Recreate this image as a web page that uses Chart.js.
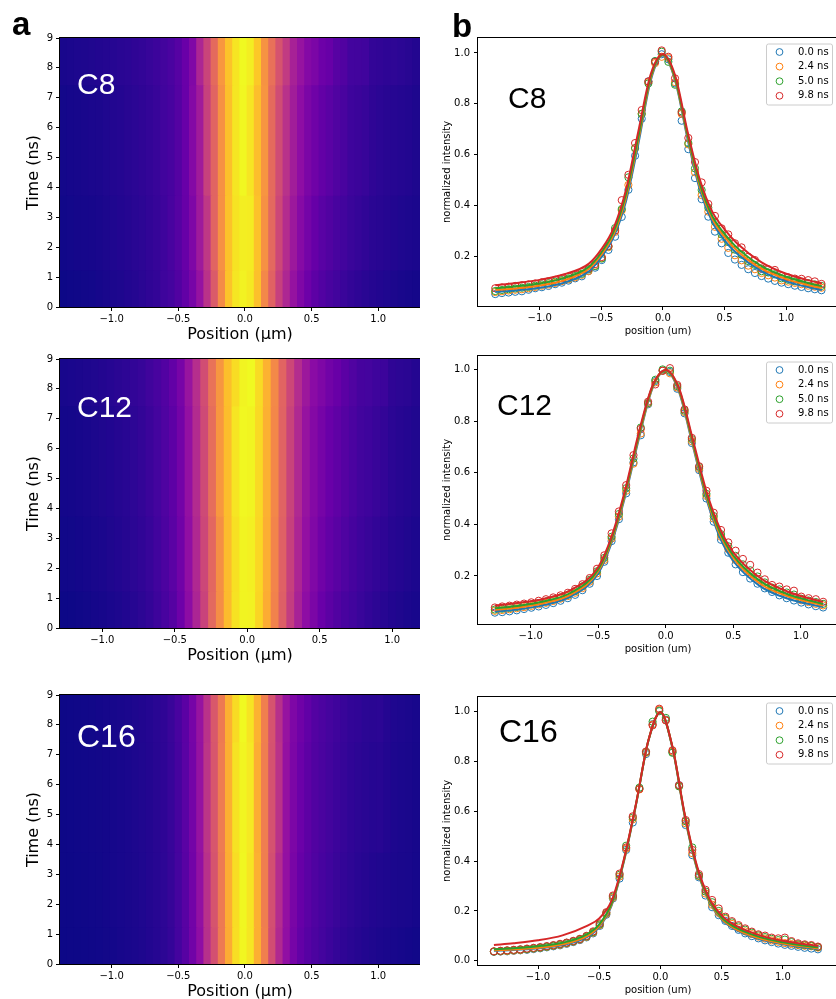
<!DOCTYPE html>
<html>
<head>
<meta charset="utf-8">
<title>Exciton profiles C8 / C12 / C16</title>
<script src="https://cdn.jsdelivr.net/npm/chart.js@4.4.1/dist/chart.umd.min.js"></script>
<style>
  html, body { margin: 0; padding: 0; background: #fff; }
  body { position: relative; width: 836px; height: 999px; overflow: hidden; }
  canvas { position: absolute; }
  .tag { position: absolute; font: bold 33px "Liberation Sans", Arial, sans-serif; line-height: 33px; color: #000; }
  .name { position: absolute; font-family: "Liberation Sans", Arial, sans-serif; color: #000; }
  .name.white { color: #fff; }
</style>
</head>
<body>
<canvas id="heatC8" width="400" height="319" style="left:20px;top:28px"></canvas>
<canvas id="heatC12" width="400" height="319" style="left:20px;top:349px"></canvas>
<canvas id="heatC16" width="400" height="319" style="left:20px;top:685px"></canvas>
<canvas id="lineC8" width="401" height="318" style="left:437px;top:28px"></canvas>
<canvas id="lineC12" width="401" height="318" style="left:437px;top:346px"></canvas>
<canvas id="lineC16" width="401" height="318" style="left:437px;top:687px"></canvas>

<div class="tag" style="left:12px;top:7px">a</div>
<div class="tag" style="left:452px;top:9px">b</div>
<div class="name white" style="left:77px;top:69px;font-size:30px;line-height:30px">C8</div>
<div class="name white" style="left:77px;top:392px;font-size:30px;line-height:30px">C12</div>
<div class="name white" style="left:77px;top:720px;font-size:32px;line-height:32px">C16</div>
<div class="name" style="left:508px;top:83px;font-size:30px;line-height:30px">C8</div>
<div class="name" style="left:497px;top:390px;font-size:30px;line-height:30px">C12</div>
<div class="name" style="left:499px;top:715px;font-size:32px;line-height:32px">C16</div>

<script>
// ---- data -------------------------------------------------------------
const timeLabels = ["0.0 ns", "2.4 ns", "5.0 ns", "9.8 ns"];
const timeBands = [0, 1.2, 3.7, 7.4, 9]; // rows of the kymograph filled by each profile
const timeTicks = [0, 1, 2, 3, 4, 5, 6, 7, 8, 9];
const positionTicks = [-1.0, -0.5, 0.0, 0.5, 1.0];
const intensityTicks = [0.2, 0.4, 0.6, 0.8, 1.0];
const intensityTicksC16 = [0.0, 0.2, 0.4, 0.6, 0.8, 1.0];

const positions50 = [
  -1.36, -1.306, -1.252, -1.198, -1.144, -1.09, -1.036, -0.982, -0.928, -0.874,
  -0.82, -0.766, -0.712, -0.658, -0.604, -0.55, -0.496, -0.442, -0.388, -0.334,
  -0.28, -0.226, -0.172, -0.118, -0.064, -0.01, 0.044, 0.098, 0.152, 0.206,
  0.26, 0.314, 0.368, 0.422, 0.476, 0.53, 0.584, 0.638, 0.692, 0.746,
  0.8, 0.854, 0.908, 0.962, 1.016, 1.07, 1.124, 1.178, 1.232, 1.286
];
const positions46 = [
  -1.265, -1.211, -1.157, -1.103, -1.049, -0.995, -0.941, -0.887, -0.833, -0.779,
  -0.725, -0.671, -0.617, -0.563, -0.509, -0.455, -0.401, -0.347, -0.293, -0.239,
  -0.185, -0.131, -0.077, -0.023, 0.031, 0.085, 0.139, 0.193, 0.247, 0.301,
  0.355, 0.409, 0.463, 0.517, 0.571, 0.625, 0.679, 0.733, 0.787, 0.841,
  0.895, 0.949, 1.003, 1.057, 1.111, 1.165
];

// C8 measured profiles
const c8At00 = [
  0.050, 0.054, 0.056, 0.059, 0.061, 0.067, 0.073, 0.077, 0.082, 0.089,
  0.095, 0.103, 0.112, 0.120, 0.141, 0.154, 0.184, 0.224, 0.276, 0.354,
  0.461, 0.595, 0.741, 0.888, 0.967, 0.995, 0.975, 0.880, 0.733, 0.621,
  0.507, 0.424, 0.355, 0.296, 0.250, 0.212, 0.186, 0.165, 0.148, 0.133,
  0.121, 0.111, 0.102, 0.095, 0.089, 0.083, 0.078, 0.073, 0.069, 0.065
];
const c8At24 = [
  0.058, 0.061, 0.064, 0.067, 0.069, 0.073, 0.078, 0.083, 0.088, 0.094,
  0.101, 0.108, 0.116, 0.126, 0.140, 0.162, 0.192, 0.235, 0.295, 0.380,
  0.480, 0.625, 0.760, 0.885, 0.960, 0.985, 0.980, 0.885, 0.760, 0.640,
  0.530, 0.440, 0.375, 0.315, 0.268, 0.232, 0.203, 0.183, 0.162, 0.148,
  0.133, 0.124, 0.115, 0.104, 0.099, 0.094, 0.089, 0.083, 0.079, 0.075
];
const c8At50 = [
  0.062, 0.066, 0.069, 0.072, 0.075, 0.078, 0.083, 0.088, 0.093, 0.099,
  0.105, 0.112, 0.121, 0.130, 0.147, 0.160, 0.190, 0.238, 0.310, 0.385,
  0.510, 0.625, 0.760, 0.880, 0.968, 1.005, 0.965, 0.875, 0.770, 0.645,
  0.545, 0.460, 0.390, 0.335, 0.285, 0.255, 0.225, 0.205, 0.180, 0.165,
  0.140, 0.135, 0.128, 0.112, 0.106, 0.100, 0.097, 0.093, 0.088, 0.082
];
const c8At98 = [
  0.073, 0.076, 0.079, 0.082, 0.085, 0.088, 0.092, 0.096, 0.101, 0.106,
  0.112, 0.119, 0.127, 0.137, 0.150, 0.168, 0.196, 0.240, 0.300, 0.420,
  0.520, 0.645, 0.775, 0.888, 0.965, 1.010, 0.985, 0.900, 0.765, 0.665,
  0.570, 0.490, 0.405, 0.358, 0.309, 0.285, 0.250, 0.234, 0.197, 0.184,
  0.151, 0.148, 0.145, 0.121, 0.116, 0.111, 0.110, 0.105, 0.100, 0.090
];
// C8 fitted curves
const c8FitPos = [-1.36, -1.2, -1.0, -0.8, -0.6, -0.5, -0.4, -0.3, -0.2, -0.1, 0.0, 0.1, 0.2, 0.3, 0.4, 0.5, 0.6, 0.8, 1.0, 1.2, 1.29];
const c8Fit00 = [0.058, 0.064, 0.075, 0.095, 0.140, 0.195, 0.275, 0.415, 0.640, 0.890, 0.990, 0.890, 0.660, 0.460, 0.335, 0.262, 0.210, 0.140, 0.100, 0.075, 0.066];
const c8Fit24 = [0.066, 0.072, 0.084, 0.105, 0.150, 0.205, 0.285, 0.430, 0.655, 0.898, 0.992, 0.895, 0.670, 0.472, 0.348, 0.275, 0.222, 0.150, 0.109, 0.083, 0.074];
const c8Fit50 = [0.073, 0.080, 0.092, 0.114, 0.158, 0.214, 0.296, 0.443, 0.668, 0.905, 0.993, 0.900, 0.678, 0.484, 0.358, 0.287, 0.233, 0.160, 0.118, 0.091, 0.081];
const c8Fit98 = [0.085, 0.093, 0.106, 0.128, 0.170, 0.226, 0.310, 0.460, 0.690, 0.915, 0.995, 0.910, 0.690, 0.500, 0.375, 0.305, 0.250, 0.175, 0.130, 0.102, 0.092];

// C12 measured profiles
const c12At00 = [
  0.058, 0.060, 0.063, 0.067, 0.072, 0.077, 0.082, 0.088, 0.095, 0.104,
  0.114, 0.127, 0.145, 0.170, 0.200, 0.255, 0.335, 0.420, 0.520, 0.640,
  0.745, 0.865, 0.955, 0.995, 0.990, 0.925, 0.830, 0.715, 0.610, 0.500,
  0.410, 0.340, 0.290, 0.245, 0.215, 0.190, 0.170, 0.152, 0.138, 0.125,
  0.114, 0.105, 0.097, 0.090, 0.083, 0.078
];
const c12At24 = [
  0.065, 0.068, 0.071, 0.075, 0.079, 0.084, 0.090, 0.096, 0.103, 0.112,
  0.122, 0.135, 0.153, 0.178, 0.210, 0.262, 0.345, 0.430, 0.530, 0.635,
  0.752, 0.868, 0.950, 0.995, 0.985, 0.930, 0.835, 0.722, 0.615, 0.510,
  0.422, 0.352, 0.304, 0.262, 0.232, 0.208, 0.185, 0.165, 0.148, 0.137,
  0.126, 0.118, 0.106, 0.099, 0.092, 0.086
];
const c12At50 = [
  0.070, 0.073, 0.076, 0.080, 0.085, 0.090, 0.095, 0.101, 0.108, 0.117,
  0.127, 0.141, 0.160, 0.185, 0.218, 0.270, 0.352, 0.440, 0.540, 0.655,
  0.775, 0.870, 0.960, 1.000, 0.995, 0.935, 0.840, 0.730, 0.622, 0.518,
  0.432, 0.362, 0.315, 0.278, 0.245, 0.222, 0.198, 0.175, 0.155, 0.148,
  0.136, 0.128, 0.112, 0.105, 0.099, 0.092
];
const c12At98 = [
  0.078, 0.082, 0.085, 0.089, 0.093, 0.098, 0.104, 0.110, 0.117, 0.125,
  0.135, 0.150, 0.168, 0.192, 0.228, 0.280, 0.365, 0.450, 0.552, 0.668,
  0.770, 0.875, 0.942, 0.995, 1.005, 0.940, 0.845, 0.735, 0.625, 0.530,
  0.445, 0.378, 0.330, 0.298, 0.266, 0.243, 0.213, 0.187, 0.165, 0.159,
  0.148, 0.143, 0.120, 0.114, 0.110, 0.100
];
// C12 fitted curves
const c12FitPos = [-1.265, -1.1, -0.9, -0.7, -0.5, -0.4, -0.3, -0.2, -0.1, 0.0, 0.1, 0.2, 0.3, 0.4, 0.5, 0.7, 0.9, 1.1, 1.165];
const c12Fit00 = [0.062, 0.070, 0.088, 0.122, 0.210, 0.330, 0.510, 0.730, 0.925, 0.995, 0.910, 0.705, 0.500, 0.350, 0.258, 0.160, 0.113, 0.087, 0.080];
const c12Fit24 = [0.069, 0.077, 0.095, 0.129, 0.218, 0.338, 0.518, 0.737, 0.928, 0.996, 0.915, 0.712, 0.509, 0.361, 0.270, 0.170, 0.122, 0.094, 0.086];
const c12Fit50 = [0.075, 0.084, 0.102, 0.136, 0.225, 0.345, 0.525, 0.745, 0.932, 0.997, 0.920, 0.720, 0.518, 0.372, 0.280, 0.180, 0.130, 0.100, 0.092];
const c12Fit98 = [0.085, 0.095, 0.112, 0.146, 0.235, 0.355, 0.535, 0.755, 0.935, 0.998, 0.925, 0.730, 0.530, 0.385, 0.292, 0.192, 0.140, 0.108, 0.100];

// C16 measured profiles
const c16At00 = [
  0.036, 0.037, 0.038, 0.040, 0.042, 0.044, 0.047, 0.050, 0.054, 0.058,
  0.062, 0.068, 0.075, 0.083, 0.094, 0.110, 0.140, 0.185, 0.250, 0.330,
  0.445, 0.555, 0.690, 0.830, 0.950, 1.005, 0.968, 0.838, 0.705, 0.545,
  0.424, 0.335, 0.262, 0.215, 0.183, 0.160, 0.140, 0.124, 0.110, 0.099,
  0.090, 0.082, 0.075, 0.069, 0.064, 0.060, 0.056, 0.052, 0.049, 0.046
];
const c16At24 = [
  0.037, 0.038, 0.039, 0.041, 0.043, 0.046, 0.049, 0.052, 0.056, 0.060,
  0.064, 0.070, 0.077, 0.085, 0.096, 0.113, 0.143, 0.188, 0.253, 0.338,
  0.450, 0.568, 0.688, 0.835, 0.948, 1.008, 0.966, 0.840, 0.702, 0.552,
  0.432, 0.340, 0.270, 0.225, 0.192, 0.168, 0.148, 0.132, 0.118, 0.107,
  0.097, 0.089, 0.082, 0.076, 0.071, 0.067, 0.063, 0.060, 0.058, 0.053
];
const c16At50 = [
  0.037, 0.039, 0.041, 0.043, 0.045, 0.047, 0.050, 0.053, 0.057, 0.061,
  0.066, 0.072, 0.078, 0.087, 0.098, 0.115, 0.146, 0.192, 0.258, 0.345,
  0.462, 0.575, 0.695, 0.838, 0.960, 1.002, 0.975, 0.835, 0.700, 0.560,
  0.455, 0.342, 0.278, 0.235, 0.200, 0.172, 0.154, 0.138, 0.125, 0.113,
  0.102, 0.095, 0.088, 0.083, 0.085, 0.075, 0.066, 0.063, 0.060, 0.055
];
const c16At98 = [
  0.038, 0.040, 0.042, 0.044, 0.046, 0.049, 0.052, 0.055, 0.059, 0.063,
  0.068, 0.073, 0.080, 0.088, 0.100, 0.118, 0.150, 0.195, 0.262, 0.350,
  0.455, 0.580, 0.690, 0.840, 0.945, 1.012, 0.965, 0.845, 0.705, 0.565,
  0.445, 0.348, 0.285, 0.244, 0.210, 0.177, 0.159, 0.143, 0.130, 0.117,
  0.106, 0.101, 0.093, 0.090, 0.093, 0.079, 0.070, 0.066, 0.063, 0.057
];
// C16 fitted curves
const c16FitPos = [-1.36, -1.2, -1.0, -0.8, -0.6, -0.5, -0.4, -0.3, -0.2, -0.1, 0.0, 0.1, 0.2, 0.3, 0.4, 0.5, 0.6, 0.8, 1.0, 1.2, 1.29];
const c16Fit00 = [0.040, 0.043, 0.050, 0.063, 0.095, 0.135, 0.220, 0.395, 0.625, 0.880, 0.998, 0.850, 0.575, 0.365, 0.235, 0.165, 0.128, 0.088, 0.066, 0.052, 0.048];
const c16Fit24 = [0.042, 0.045, 0.052, 0.066, 0.099, 0.139, 0.224, 0.398, 0.627, 0.881, 0.998, 0.852, 0.578, 0.368, 0.238, 0.168, 0.131, 0.091, 0.069, 0.055, 0.050];
const c16Fit50 = [0.046, 0.050, 0.058, 0.072, 0.106, 0.146, 0.229, 0.401, 0.628, 0.881, 0.998, 0.853, 0.581, 0.372, 0.243, 0.173, 0.137, 0.097, 0.074, 0.059, 0.054];
const c16Fit98 = [0.063, 0.070, 0.082, 0.102, 0.140, 0.170, 0.240, 0.405, 0.630, 0.882, 0.998, 0.855, 0.585, 0.378, 0.250, 0.182, 0.145, 0.104, 0.080, 0.065, 0.060];

// ---- styles -----------------------------------------------------------
const seriesColors = ["#1f77b4", "#ff7f0e", "#2ca02c", "#d62728"];
const plasmaStops = ["#0d0887", "#41049d", "#6a00a8", "#8f0da4", "#b12a90", "#cc4778",
                     "#e16462", "#f2844b", "#fca636", "#fcce25", "#f0f921"];

Chart.defaults.font.family = '"DejaVu Sans", sans-serif';
Chart.defaults.font.size = 10;
Chart.defaults.color = "#000";

function hexRgb(h) {
  return [1, 3, 5].map(function (i) { return parseInt(h.substr(i, 2), 16); });
}

function plasma(t) {
  const c = Math.max(0, Math.min(1, t)) * (plasmaStops.length - 1);
  const i = Math.min(plasmaStops.length - 2, Math.floor(c));
  const f = c - i;
  const a = hexRgb(plasmaStops[i]);
  const b = hexRgb(plasmaStops[i + 1]);
  return "rgb(" + a.map(function (v, j) { return Math.round(v + (b[j] - v) * f); }).join(",") + ")";
}

function fmt1(v) {
  return Number(v).toFixed(1).replace("-", "\u2212");
}

function fixedTicks(list) {
  return function (scale) {
    scale.ticks = list.map(function (v) { return { value: v }; });
  };
}

function tickGrid() {
  return { display: true, drawOnChartArea: false, drawTicks: true, tickLength: 4,
           tickColor: "#000", tickWidth: 1, offset: false };
}

// black box round the plot area
const framePlugin = {
  id: "frame",
  afterDatasetsDraw(chart) {
    const a = chart.chartArea;
    const ctx = chart.ctx;
    ctx.save();
    ctx.strokeStyle = "#000";
    ctx.lineWidth = 1;
    ctx.strokeRect(Math.round(a.left) - 0.5, Math.round(a.top) - 0.5,
                   Math.round(a.right - a.left) + 1, Math.round(a.bottom - a.top) + 1);
    ctx.restore();
  }
};

// matplotlib-like legend box in the upper right corner
const boxLegendPlugin = {
  id: "boxLegend",
  afterDraw(chart, args, opts) {
    if (!opts.labels) return;
    const a = chart.chartArea;
    const ctx = chart.ctx;
    const w = 66, h = 61;
    const x = a.right - 6 - w, y = a.top + 5.5;
    ctx.save();
    ctx.beginPath();
    ctx.roundRect(x + 0.5, y + 0.5, w, h, 2);
    ctx.fillStyle = "rgba(255,255,255,0.8)";
    ctx.fill();
    ctx.strokeStyle = "#cccccc";
    ctx.lineWidth = 1;
    ctx.stroke();
    ctx.font = '10px "DejaVu Sans"';
    ctx.textBaseline = "middle";
    opts.labels.forEach(function (lab, i) {
      const cy = y + 8.5 + i * 14.6;
      ctx.beginPath();
      ctx.arc(x + 13.5, cy, 3.4, 0, 2 * Math.PI);
      ctx.strokeStyle = opts.colors[i];
      ctx.stroke();
      ctx.fillStyle = "#000";
      ctx.fillText(lab, x + 32, cy);
    });
    ctx.restore();
  }
};

/**
 * Kymograph: one column per position, one band of rows per profile
 */
function drawHeatmap(canvasId, pos, series, xRange) {
  const all = [].concat.apply([], series);
  const lo = Math.min.apply(null, all);
  const hi = Math.max.apply(null, all);
  const datasets = series.map(function (vals, k) {
    return {
      data: pos.map(function (x) { return { x: x, y: [timeBands[k], timeBands[k + 1]] }; }),
      backgroundColor: vals.map(function (v) { return plasma((v - lo) / (hi - lo)); }),
      borderWidth: 0,
      grouped: false,
      barPercentage: 1,
      categoryPercentage: 1,
      inflateAmount: 0.6
    };
  });

  new Chart(document.getElementById(canvasId), {
    type: "bar",
    data: { datasets: datasets },
    options: {
      responsive: false,
      animation: false,
      devicePixelRatio: 1,
      layout: { autoPadding: false, padding: { top: 10, right: 0, bottom: 0, left: 0 } },
      plugins: { legend: { display: false }, tooltip: { enabled: false } },
      scales: {
        x: {
          type: "linear",
          min: xRange[0],
          max: xRange[1],
          offset: false,
          grid: tickGrid(),
          border: { display: false },
          afterBuildTicks: fixedTicks(positionTicks),
          afterFit: function (s) { s.height = 40; },
          ticks: { callback: fmt1, padding: 2, maxRotation: 0, autoSkip: false },
          title: { display: true, text: "Position (\u03bcm)", font: { size: 16 }, padding: { top: 0, bottom: 3 } }
        },
        y: {
          type: "linear",
          min: 0,
          max: 9,
          grid: tickGrid(),
          border: { display: false },
          afterBuildTicks: fixedTicks(timeTicks),
          afterFit: function (s) { s.width = 40; },
          ticks: { callback: function (v) { return String(v); }, padding: 3, autoSkip: false },
          title: { display: true, text: "Time (ns)", font: { size: 16 }, padding: { top: 4, bottom: 0 } }
        }
      }
    },
    plugins: [framePlugin]
  });
}

/**
 * Normalized profiles with their fitted curves
 */
function drawProfiles(canvasId, pos, series, fitPos, fits, xRange, yRange, yTicks) {
  const datasets = [];
  fits.forEach(function (vals, k) {
    datasets.push({
      label: timeLabels[k] + " fit",
      data: fitPos.map(function (x, i) { return { x: x, y: vals[i] }; }),
      showLine: true,
      borderColor: seriesColors[k],
      borderWidth: 2,
      pointRadius: 0,
      cubicInterpolationMode: "monotone",
      fill: false,
      order: 4 - k
    });
  });
  series.forEach(function (vals, k) {
    datasets.push({
      label: timeLabels[k],
      data: pos.map(function (x, i) { return { x: x, y: vals[i] }; }),
      showLine: false,
      pointRadius: 3.6,
      pointBorderWidth: 1,
      pointBorderColor: seriesColors[k],
      pointBackgroundColor: "rgba(0,0,0,0)",
      order: 8 - k
    });
  });

  new Chart(document.getElementById(canvasId), {
    type: "scatter",
    data: { datasets: datasets },
    options: {
      responsive: false,
      animation: false,
      devicePixelRatio: 1,
      layout: { autoPadding: false, padding: { top: 10, right: 0, bottom: 0, left: 0 } },
      plugins: {
        legend: { display: false },
        tooltip: { enabled: false },
        boxLegend: { labels: timeLabels, colors: seriesColors }
      },
      scales: {
        x: {
          type: "linear",
          min: xRange[0],
          max: xRange[1],
          grid: tickGrid(),
          border: { display: false },
          afterBuildTicks: fixedTicks(positionTicks),
          afterFit: function (s) { s.height = 40; },
          ticks: { callback: fmt1, padding: 2, maxRotation: 0, autoSkip: false },
          title: { display: true, text: "position (um)", font: { size: 10 }, padding: { top: 0, bottom: 9 } }
        },
        y: {
          type: "linear",
          min: yRange[0],
          max: yRange[1],
          grid: tickGrid(),
          border: { display: false },
          afterBuildTicks: fixedTicks(yTicks),
          afterFit: function (s) { s.width = 41; },
          ticks: { callback: fmt1, padding: 4, autoSkip: false },
          title: { display: true, text: "normalized intensity", font: { size: 10 }, padding: { top: 4, bottom: 0 } }
        }
      }
    },
    plugins: [framePlugin, boxLegendPlugin]
  });
}

drawHeatmap("heatC8", positions50, [c8At00, c8At24, c8At50, c8At98], [-1.387, 1.313]);
drawHeatmap("heatC12", positions46, [c12At00, c12At24, c12At50, c12At98], [-1.292, 1.192]);
drawHeatmap("heatC16", positions50, [c16At00, c16At24, c16At50, c16At98], [-1.387, 1.313]);

drawProfiles("lineC8", positions50, [c8At00, c8At24, c8At50, c8At98],
             c8FitPos, [c8Fit00, c8Fit24, c8Fit50, c8Fit98], [-1.50, 1.42], [0.003, 1.059], intensityTicks);
drawProfiles("lineC12", positions46, [c12At00, c12At24, c12At50, c12At98],
             c12FitPos, [c12Fit00, c12Fit24, c12Fit50, c12Fit98], [-1.39, 1.275], [0.014, 1.052], intensityTicks);
drawProfiles("lineC16", positions50, [c16At00, c16At24, c16At50, c16At98],
             c16FitPos, [c16Fit00, c16Fit24, c16Fit50, c16Fit98], [-1.49, 1.45], [-0.017, 1.059], intensityTicksC16);
</script>
</body>
</html>
